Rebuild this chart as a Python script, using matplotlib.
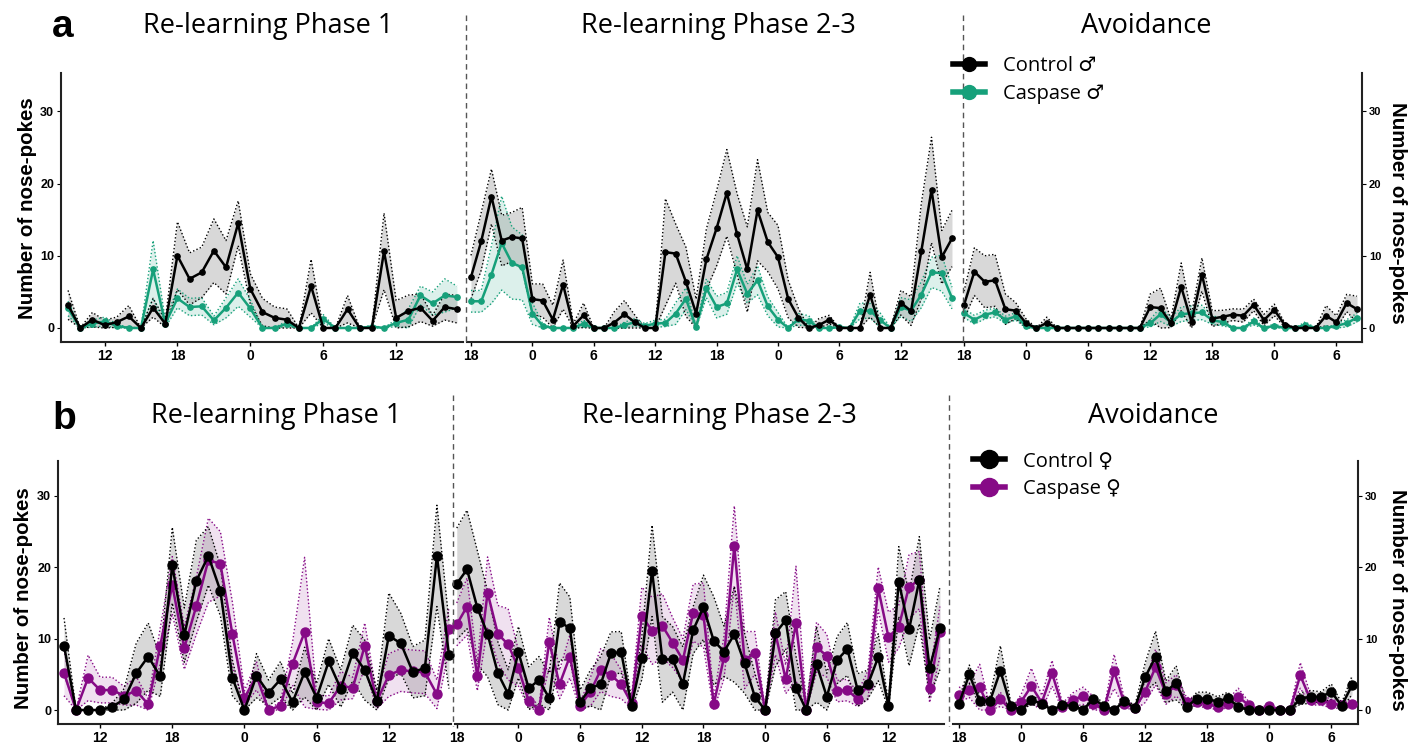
import numpy as np
import matplotlib.pyplot as plt
from matplotlib.lines import Line2D

# hourly nose-pokes, mean and sem
# panel a (males)
ctrl_a1 = [3.2, 0, 1.15, 0.4, 0.8, 1.6, 0, 2.8, 0.6, 10.0, 6.8, 7.7, 10.7, 8.4, 14.5, 5.4, 2.2, 1.4, 1.15, 0,
           5.8, 0, 0, 2.6, 0, 0, 10.6, 1.4, 2.35, 2.8, 1.0, 2.9, 2.6]
ctrl_a1_sem = [2.0, 0, 1.0, 0.7, 0.7, 1.5, 0, 1.3, 0.5, 4.7, 3.6, 3.5, 4.4, 3.7, 3.1, 2.1, 1.9, 1.5, 1.5, 0,
               3.7, 0, 0, 1.9, 0, 0, 5.3, 2.4, 2.2, 1.9, 0.75, 1.8, 1.9]
casp_a1 = [2.7, 0, 0.6, 0.9, 0.3, 0, 0, 8.1, 0.6, 4.1, 2.9, 3.0, 1.05, 2.8, 4.9, 2.7, 0, 0, 0.6, 0,
           0, 1.25, 0, 0, 0, 0.2, 0, 0.7, 1.15, 4.5, 3.4, 4.5, 4.3]
casp_a1_sem = [1.0, 0, 0.5, 0.6, 0.3, 0, 0, 4.0, 0.5, 1.3, 1.2, 1.2, 0.6, 1.4, 1.9, 1.2, 0, 0, 0.4, 0,
               0, 0.6, 0, 0, 0, 0.2, 0, 0.5, 1.5, 1.3, 1.6, 2.3, 1.5]

ctrl_a2 = [7.05, 12.0, 18.2, 12.1, 12.6, 12.4, 4.0, 3.8, 1.15, 6.0, 0.3, 1.75, 0, 0, 0.75, 1.9, 0.8, 0, 0, 10.5,
           10.3, 6.4, 2.0, 9.5, 13.8, 18.7, 13.0, 8.1, 16.3, 11.9, 9.8, 4.0, 1.4, 0, 0.4, 1.15, 0, 0, 0, 4.6,
           0, 0, 3.5, 2.35, 10.6, 19.1, 9.8, 12.4]
ctrl_a2_sem = [3.0, 4.0, 3.8, 3.5, 3.4, 4.3, 2.1, 2.3, 2.0, 3.4, 0.3, 1.7, 0, 0, 1.5, 1.9, 1.0, 0, 0, 7.4,
               4.1, 4.8, 2.0, 4.2, 5.2, 6.0, 5.6, 5.9, 7.0, 4.1, 4.4, 2.6, 1.3, 0, 0.9, 0.6, 0, 0, 0, 3.1,
               0, 0, 1.7, 2.0, 6.6, 7.3, 3.7, 3.9]
casp_a2 = [3.7, 3.7, 7.4, 11.75, 9.0, 8.4, 2.0, 0.3, 0, 0, 0, 0.6, 0, 0, 0, 0.4, 0.8, 0.3, 0.6, 0.7,
           2.0, 4.05, 0.1, 5.5, 2.9, 3.4, 8.1, 4.75, 6.6, 3.0, 1.15, 0, 1.2, 1.0, 0, 0, 0.1, 0, 2.35, 2.4,
           1.05, 0, 2.9, 2.4, 4.6, 7.7, 7.6, 4.15]
casp_a2_sem = [1.5, 1.5, 4.0, 6.5, 5.0, 4.5, 1.5, 0.3, 0, 0, 0, 0.5, 0, 0, 0, 0.4, 0.5, 0.3, 0.5, 0.5,
               1.5, 1.5, 0.1, 1.3, 1.5, 1.5, 1.9, 1.3, 2.0, 1.3, 1.0, 0, 0.8, 0.7, 0, 0, 0.1, 0, 1.1, 1.0,
               1.0, 0, 1.3, 1.5, 1.8, 2.1, 2.5, 1.5]

ctrl_a3 = [3.2, 7.8, 6.4, 6.6, 2.6, 2.4, 0.65, 0, 0.7, 0, 0, 0, 0, 0, 0, 0, 0, 0, 2.9, 2.75,
           0.65, 5.7, 0.8, 7.4, 1.3, 1.55, 1.85, 1.7, 3.2, 1.1, 2.5, 0.45, 0, 0, 0, 1.7, 0.8, 3.45, 2.6]
ctrl_a3_sem = [1.9, 3.3, 3.6, 3.6, 2.1, 1.1, 0.6, 0, 0.8, 0, 0, 0, 0, 0, 0, 0, 0, 0, 1.8, 2.75,
               0.6, 3.3, 1.1, 2.3, 1.1, 0.9, 0.8, 0.9, 0.8, 0.8, 0.8, 0.3, 0, 0, 0, 1.4, 0.9, 1.2, 1.8]
casp_a3 = [2.05, 1.15, 1.85, 2.15, 1.15, 1.6, 0.3, 0, 0, 0, 0, 0, 0, 0, 0, 0, 0, 0, 0.65, 1.9,
           0.8, 1.9, 2.05, 2.15, 1.1, 0.8, 0, 0, 0.9, 0, 0.3, 0, 0, 0.45, 0, 0, 0.3, 0.65, 1.45]
casp_a3_sem = [0.6, 0.6, 0.6, 0.6, 0.5, 0.5, 0.3, 0, 0, 0, 0, 0, 0, 0, 0, 0, 0, 0, 0.5, 1.0,
               0.6, 1.0, 1.0, 1.0, 0.6, 0.5, 0, 0, 0.5, 0, 0.3, 0, 0, 0.4, 0, 0, 0.3, 0.5, 0.6]

# panel b (females)
ctrl_b1 = [9.0, 0, 0, 0, 0.45, 1.5, 5.15, 7.5, 4.7, 20.3, 10.5, 18.1, 21.6, 16.7, 4.5, 0, 4.8, 2.4, 4.3, 1.1,
           5.3, 1.7, 6.8, 3.0, 8.0, 5.6, 1.25, 10.4, 9.35, 5.3, 5.9, 21.6, 7.7]
ctrl_b1_sem = [3.9, 0, 0, 0, 0.5, 1.5, 4.2, 4.7, 2.8, 5.3, 3.8, 5.7, 4.1, 3.5, 2.5, 0, 3.1, 1.8, 2.5, 1.2,
               3.5, 2.0, 3.2, 2.6, 3.9, 4.2, 1.5, 6.0, 4.2, 3.6, 3.9, 7.1, 4.7]
casp_b1 = [5.2, 0, 4.5, 2.8, 2.8, 2.0, 2.7, 0.8, 9.0, 17.5, 8.7, 14.6, 21.0, 20.5, 10.6, 1.7, 4.8, 0, 0.6, 6.5,
           10.9, 1.1, 0.95, 3.4, 3.1, 9.0, 1.2, 4.9, 5.6, 5.4, 5.3, 2.2, 11.35]
casp_b1_sem = [3.2, 0, 3.2, 1.8, 1.8, 1.3, 2.0, 0.8, 2.5, 4.0, 3.0, 4.0, 5.9, 4.5, 4.5, 1.0, 2.0, 0, 0.6, 3.0,
               10.5, 1.0, 1.0, 2.0, 1.5, 3.2, 1.0, 3.0, 3.0, 3.0, 3.0, 2.0, 3.0]

ctrl_b2 = [17.7, 19.7, 14.35, 10.65, 5.15, 2.25, 8.1, 3.05, 4.2, 1.65, 12.4, 11.45, 1.1, 3.1, 3.6, 7.95, 8.1, 0.6,
           7.25, 19.5, 7.1, 7.1, 3.65, 11.2, 14.4, 9.7, 8.2, 10.6, 6.55, 1.85, 0, 10.75, 12.6, 3.05, 0, 6.4,
           1.85, 7.0, 8.55, 2.8, 3.6, 7.4, 0.6, 18.0, 11.3, 18.2, 5.85, 11.45]
ctrl_b2_sem = [7.8, 8.3, 8.0, 6.0, 4.4, 3.4, 3.6, 3.0, 3.3, 3.5, 5.4, 4.4, 1.7, 2.5, 3.9, 3.0, 2.9, 0.8,
               3.0, 6.4, 6.0, 4.6, 5.2, 3.3, 4.5, 6.2, 3.5, 6.7, 4.2, 3.3, 0.4, 4.7, 4.0, 4.5, 0.4, 5.3,
               3.3, 3.3, 3.7, 2.3, 2.0, 3.3, 0.4, 4.9, 5.1, 6.1, 4.0, 5.8]
casp_b2 = [12.0, 14.5, 4.7, 16.45, 10.65, 9.2, 5.85, 1.25, 0, 9.5, 3.6, 7.5, 0.6, 2.55, 5.6, 4.9, 3.6, 0.95,
           13.2, 11.1, 11.8, 9.45, 7.0, 13.65, 13.3, 0.8, 7.4, 23.0, 7.0, 8.0, 0, 10.75, 4.3, 12.15, 0, 8.8,
           7.6, 2.65, 2.8, 1.5, 3.5, 17.05, 10.2, 11.7, 17.3, 18.2, 3.05, 11.0]
casp_b2_sem = [3.0, 4.0, 2.0, 5.0, 4.0, 5.0, 2.5, 1.0, 0.5, 3.5, 2.0, 3.0, 0.5, 2.0, 3.0, 3.0, 2.0, 0.8,
               4.0, 4.7, 4.5, 3.5, 3.0, 4.0, 4.5, 1.0, 3.0, 5.6, 4.0, 3.0, 0, 3.0, 2.0, 8.0, 0.5, 3.5,
               3.0, 1.5, 1.5, 1.0, 2.0, 3.0, 3.5, 3.0, 4.5, 4.0, 2.0, 3.5]

ctrl_b3 = [0.9, 5.0, 1.25, 1.3, 5.5, 0.6, 0, 1.4, 0.9, 0, 0.7, 0.6, 0, 1.6, 0.55, 0, 1.3, 0.25, 4.6, 7.45,
           2.6, 3.8, 0.45, 1.6, 1.6, 1.15, 1.7, 0.45, 0, 0, 0, 0, 0, 1.6, 1.85, 1.85, 2.55, 0.6, 3.45]
ctrl_b3_sem = [0.5, 1.3, 0.6, 0.6, 3.5, 0.5, 0, 0.6, 0.5, 0, 0.4, 0.4, 0, 0.5, 0.4, 0, 0.5, 0.3, 2.0, 3.6,
               1.5, 2.4, 0.3, 0.9, 0.9, 0.7, 0.8, 0.3, 0, 0, 0, 0, 0, 0.8, 0.9, 0.7, 1.1, 0.4, 1.3]
casp_b3 = [2.15, 2.75, 3.2, 0, 1.5, 0, 1.15, 3.35, 1.05, 5.15, 0.45, 1.4, 2.0, 0.9, 0, 5.4, 0.9, 0.25, 2.55, 6.0,
           2.3, 3.45, 1.15, 1.15, 0.9, 0.45, 0.9, 1.85, 0.7, 0, 0.55, 0, 0, 4.85, 1.4, 1.4, 0.9, 0.7, 0.9]
casp_b3_sem = [1.0, 1.0, 3.2, 0.5, 1.0, 0, 1.0, 2.5, 1.0, 1.8, 0.5, 1.0, 1.2, 1.0, 0, 2.4, 0.6, 0.3, 1.5, 2.5,
               1.5, 1.5, 0.6, 0.6, 0.6, 0.4, 0.6, 1.2, 0.5, 0, 0.5, 0, 0, 1.8, 0.7, 0.7, 0.6, 0.5, 0.5]

phase_titles = ["Re-learning Phase 1", "Re-learning Phase 2-3", "Avoidance"]
start_hours = [9, 18, 18]

GREEN = '#16a07a'
PURPLE = '#860a86'
W, H = 1423, 746
TITLE_FONT = ['Open Sans', 'DejaVu Sans']
plt.rcParams['font.family'] = ['Liberation Sans', 'DejaVu Sans']

fig = plt.figure(figsize=(W / 100, H / 100), dpi=100)


def rect(x0, x1, top, bottom):
    return [x0 / W, 1 - bottom / H, (x1 - x0) / W, (bottom - top) / H]


def draw_group(ax, mean, sem, color, fill, falpha, ms):
    x = np.arange(len(mean))
    m = np.array(mean, dtype=float)
    s = np.array(sem, dtype=float)
    lo = np.clip(m - s, 0, None)
    hi = m + s
    ax.fill_between(x, lo, hi, color=fill, alpha=falpha, lw=0)
    ax.plot(x, lo, ls=(0, (1, 1.6)), color=color, lw=1.0)
    ax.plot(x, hi, ls=(0, (1, 1.6)), color=color, lw=1.0)
    ax.plot(x, m, '-o', color=color, lw=1.8, ms=ms, clip_on=False, zorder=3)


def make_panel(rects, xlims, ylim, data, color, calpha, ms, tick_fs, ytick_fs):
    axes = []
    for i, (r, xl, d) in enumerate(zip(rects, xlims, data)):
        ax = fig.add_axes(r)
        ctrl, ctrl_sem, casp, casp_sem = d
        draw_group(ax, casp, casp_sem, color, color, calpha, ms)
        draw_group(ax, ctrl, ctrl_sem, 'black', 'grey', 0.3, ms)
        ax.set_xlim(*xl)
        ax.set_ylim(*ylim)
        n = len(ctrl)
        hrs = [(start_hours[i] + k) for k in range(n)]
        ticks = [k for k in range(n) if hrs[k] % 6 == 0]
        ax.set_xticks(ticks)
        ax.set_xticklabels([str(hrs[k] % 24) for k in ticks], fontsize=tick_fs, fontweight='bold')
        ax.tick_params(axis='x', length=3, width=1, pad=2)
        for sp in ['top', 'left', 'right']:
            ax.spines[sp].set_visible(False)
        ax.spines['bottom'].set_linewidth(1.5)
        ax.spines['bottom'].set_color('#222222')
        if i == 0:
            ax.spines['left'].set_visible(True)
            ax.spines['left'].set_linewidth(1.5)
            ax.spines['left'].set_color('#222222')
            ax.set_yticks([0, 10, 20, 30])
            ax.set_yticklabels(['0', '10', '20', '30'], fontsize=ytick_fs, fontweight='bold')
            ax.tick_params(axis='y', length=3, pad=2)
        elif i == 2:
            ax.spines['right'].set_visible(True)
            ax.spines['right'].set_linewidth(1.5)
            ax.spines['right'].set_color('#222222')
            ax.yaxis.tick_right()
            ax.set_yticks([0, 10, 20, 30])
            ax.set_yticklabels(['0', '10', '20', '30'], fontsize=ytick_fs - 1, fontweight='bold')
            ax.tick_params(axis='y', length=3, pad=2)
        else:
            ax.set_yticks([])
        ax.patch.set_alpha(0)
        axes.append(ax)
    return axes


# panel a
make_panel([rect(61, 463, 73, 342), rect(467, 962, 73, 342), rect(963, 1362, 73, 342)],
           [(-0.58, 32.5), (-0.39, 47.98), (-0.1, 38.48)], (-1.94, 35.3),
           [(ctrl_a1, ctrl_a1_sem, casp_a1, casp_a1_sem),
            (ctrl_a2, ctrl_a2_sem, casp_a2, casp_a2_sem),
            (ctrl_a3, ctrl_a3_sem, casp_a3, casp_a3_sem)],
           GREEN, 0.15, 3.8, 10, 9)

# panel b
make_panel([rect(58, 451, 461, 724), rect(455, 944, 461, 724), rect(953, 1358, 461, 724)],
           [(-0.5, 32.17), (-0.17, 47.4), (-0.58, 38.58)], (-1.96, 34.9),
           [(ctrl_b1, ctrl_b1_sem, casp_b1, casp_b1_sem),
            (ctrl_b2, ctrl_b2_sem, casp_b2, casp_b2_sem),
            (ctrl_b3, ctrl_b3_sem, casp_b3, casp_b3_sem)],
           PURPLE, 0.12, 6.5, 10, 9)

# phase separators
for xs, y0, y1 in [((466, 963), 15, 345), ((453, 949), 395, 726)]:
    for xv in xs:
        fig.add_artist(Line2D([xv / W, xv / W], [1 - y0 / H, 1 - y1 / H], transform=fig.transFigure,
                              ls=(0, (4, 3)), color='#555555', lw=1))

# titles and panel letters
for cx, t in zip([268, 718, 1146], phase_titles):
    fig.text(cx / W, 1 - 33 / H, t, ha='center', va='baseline', fontsize=19.5, family=TITLE_FONT)
for cx, t in zip([276, 719, 1153], phase_titles):
    fig.text(cx / W, 1 - 423 / H, t, ha='center', va='baseline', fontsize=19.5, family=TITLE_FONT)
fig.text(52 / W, 1 - 37 / H, 'a', fontsize=28, fontweight='bold', va='baseline')
fig.text(52 / W, 1 - 429 / H, 'b', fontsize=28, fontweight='bold', va='baseline')

# y labels
ylab = 'Number of nose-pokes'
fig.text(28 / W, 1 - 208 / H, ylab, rotation=90, ha='center', va='center', fontsize=14.8, fontweight='bold')
fig.text(24 / W, 1 - 598 / H, ylab, rotation=90, ha='center', va='center', fontsize=14.8, fontweight='bold')
fig.text(1397 / W, 1 - 213 / H, ylab, rotation=270, ha='center', va='center', fontsize=14.8, fontweight='bold')
fig.text(1397 / W, 1 - 600 / H, ylab, rotation=270, ha='center', va='center', fontsize=14.8, fontweight='bold')

# legends
leg_kw = dict(loc='upper left', frameon=False, borderpad=0, borderaxespad=0, handlelength=1.6,
              handletextpad=0.9, labelspacing=0.4, prop={'family': TITLE_FONT, 'size': 14.5})
fig.legend([Line2D([], [], color='black', lw=4, marker='o', ms=10),
            Line2D([], [], color=GREEN, lw=4, marker='o', ms=10)],
           ['Control \u2642', 'Caspase \u2642'], bbox_to_anchor=(953 / W, 1 - 56 / H), **leg_kw)
fig.legend([Line2D([], [], color='black', lw=4, marker='o', ms=13),
            Line2D([], [], color=PURPLE, lw=4, marker='o', ms=13)],
           ['Control \u2640', 'Caspase \u2640'], bbox_to_anchor=(973 / W, 1 - 451 / H), **leg_kw)

fig.savefig('out.png', dpi=100)
